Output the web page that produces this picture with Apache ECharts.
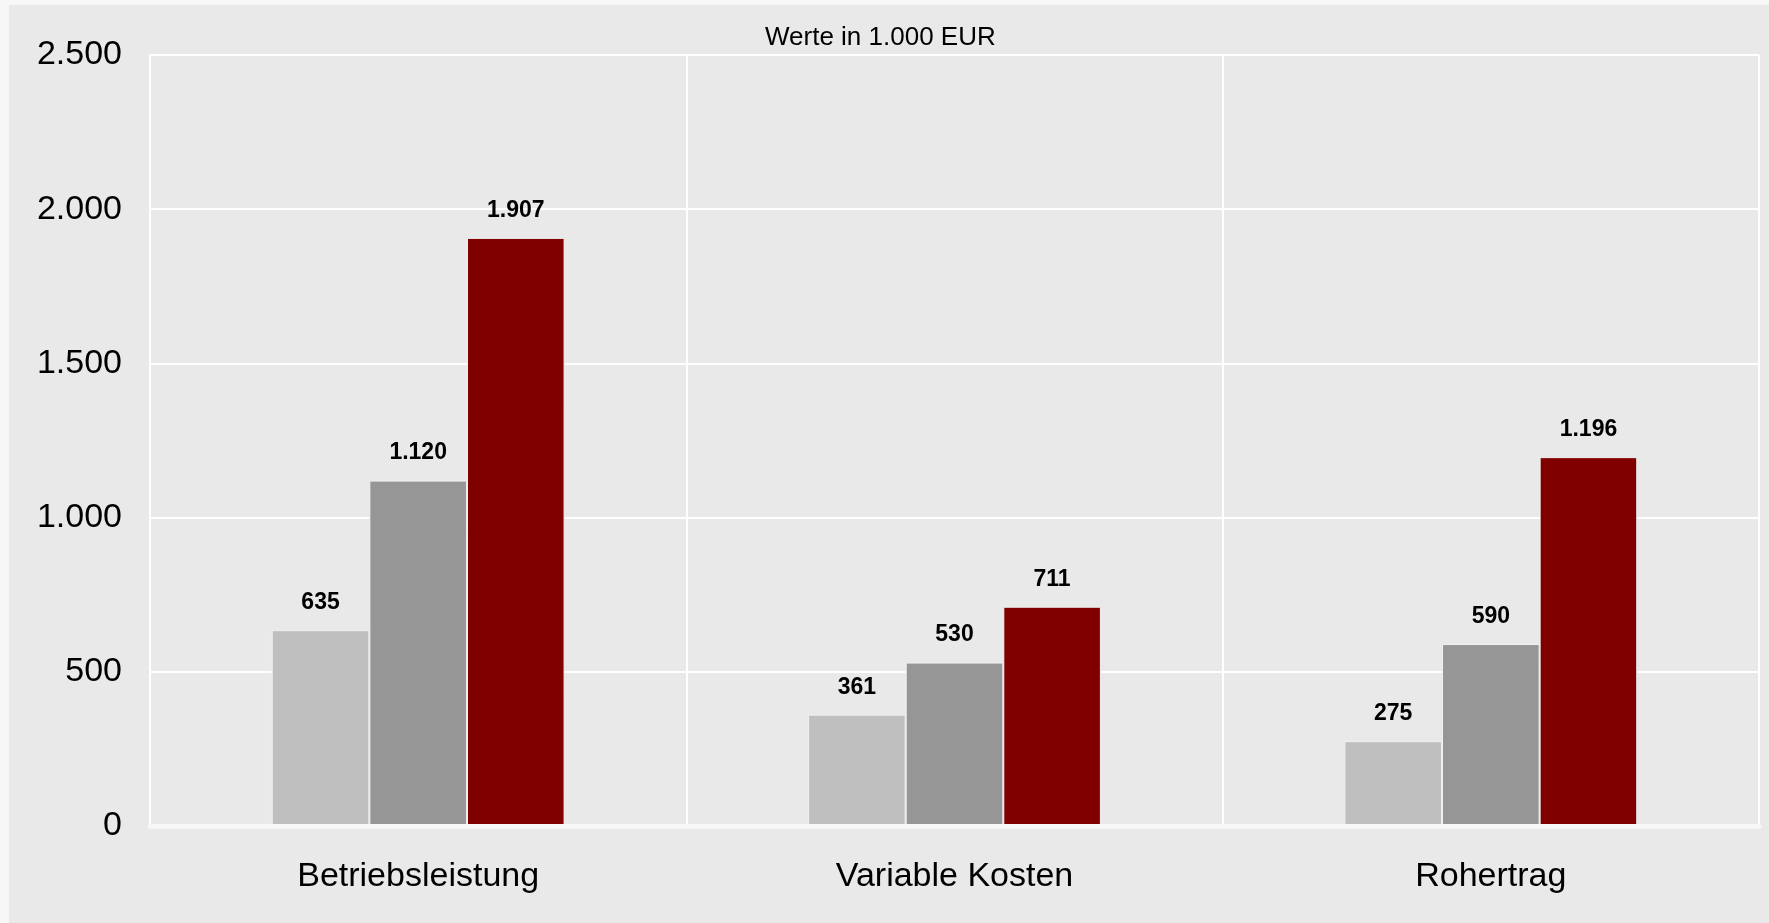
<!DOCTYPE html>
<html>
<head>
<meta charset="utf-8">
<script src="https://cdn.jsdelivr.net/npm/echarts@6/dist/echarts.min.js"></script>
<style>
  html, body { margin: 0; padding: 0; background: #f7f7f7; }
  #panel { position: absolute; left: 9px; top: 5px; width: 1760px; height: 918px; background: #e8e9e8; }
  #chart { position: absolute; left: 0; top: 0; width: 1769px; height: 923px; }
</style>
</head>
<body>
<div id="panel"></div>
<div id="chart"></div>
<script>
const categories = ['Betriebsleistung', 'Variable Kosten', 'Rohertrag'];
const series1 = [635, 361, 275];
const series2 = [1120, 530, 590];
const series3 = [1907, 711, 1196];
const seriesColors = ['#bfbfbf', '#969696', '#800000'];
const titleText = 'Werte in 1.000 EUR';

function fmt(v) {
  return String(Math.round(v)).replace(/\B(?=(\d{3})+(?!\d))/g, '.');
}

const chart = echarts.init(document.getElementById('chart'), null, { renderer: 'canvas' });
const font = '"Liberation Sans", Arial, sans-serif';

function mkSeries(data, color) {
  return {
    type: 'bar',
    data: data,
    barGap: '0%',
    barCategoryGap: '45.4%',
    itemStyle: { color: color, borderColor: '#f0f0f0', borderWidth: 1 },
    label: {
      show: true,
      position: 'top',
      distance: 16,
      formatter: p => fmt(p.value),
      fontFamily: font,
      fontSize: 23,
      fontWeight: 'bold',
      color: '#000'
    },
    emphasis: { disabled: true },
    animation: false
  };
}

chart.setOption({
  backgroundColor: 'transparent',
  animation: false,
  textStyle: { fontFamily: font },
  title: {
    text: titleText,
    left: 760,
    top: 20,
    textStyle: { fontFamily: font, fontSize: 26, fontWeight: 'normal', color: '#000' }
  },
  grid: { left: 150, right: 10, top: 55, bottom: 97, containLabel: false },
  xAxis: {
    type: 'category',
    data: categories,
    boundaryGap: true,
    axisLine: { show: true, lineStyle: { color: '#f7f7f7', width: 5, cap: 'round' } },
    axisTick: { show: false },
    axisLabel: { fontFamily: font, fontSize: 34, color: '#000', margin: 34 },
    splitLine: { show: true, lineStyle: { color: '#ffffff', width: 2 } },
    z: 3
  },
  yAxis: {
    type: 'value',
    min: 0,
    max: 2500,
    interval: 500,
    axisLine: { show: false },
    axisTick: { show: false },
    axisLabel: { fontFamily: font, fontSize: 34, color: '#000', margin: 28, formatter: v => fmt(v) },
    splitLine: { show: true, lineStyle: { color: '#ffffff', width: 2 } }
  },
  series: [
    mkSeries(series1, seriesColors[0]),
    mkSeries(series2, seriesColors[1]),
    mkSeries(series3, seriesColors[2])
  ]
});
</script>
</body>
</html>
